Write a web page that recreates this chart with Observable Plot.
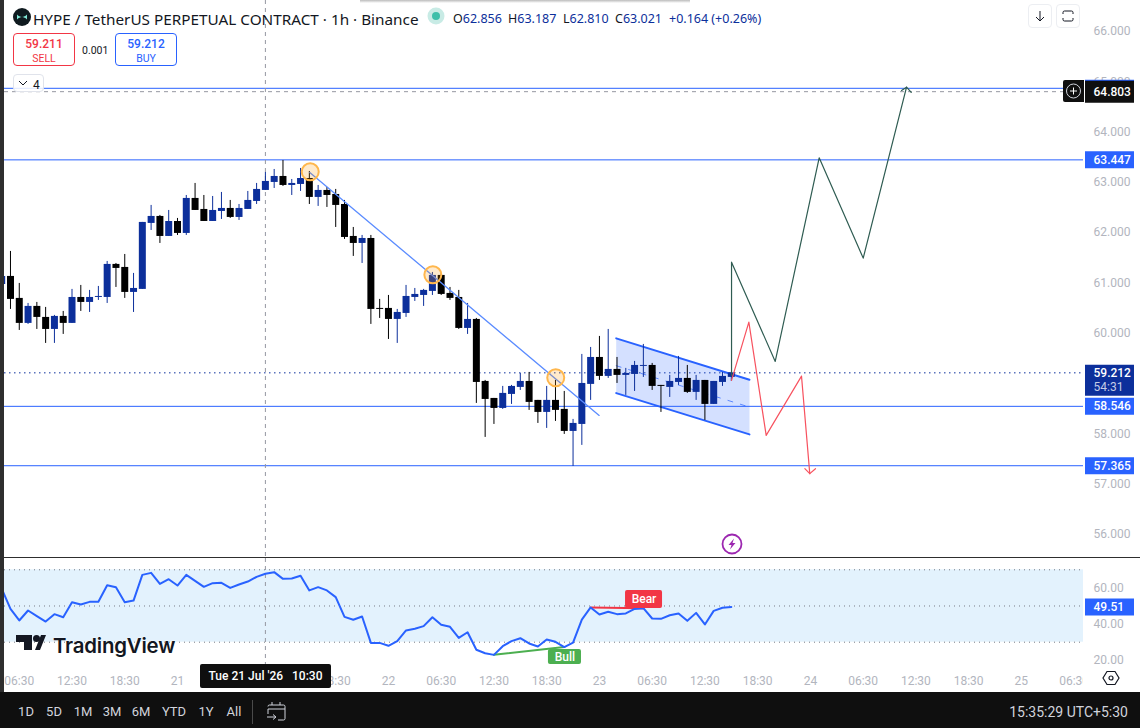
<!DOCTYPE html>
<html>
<head>
<meta charset="utf-8">
<script src="https://cdn.jsdelivr.net/npm/d3@7"></script>
<script src="https://cdn.jsdelivr.net/npm/@observablehq/plot@0.6"></script>
<style>
html,body{margin:0;padding:0;width:1140px;height:728px;overflow:hidden;background:#2e2e2e;font-family:Roboto,sans-serif}
#wrap{position:relative;width:1140px;height:728px}
.p{position:absolute}
.t{position:absolute;white-space:nowrap;line-height:1}
#bar{position:absolute;left:0;top:692px;width:1140px;height:36px;background:#0f0f0f}
.range{position:absolute;top:705px;color:#d1d4dc;font-size:13px;line-height:1;transform:translateX(-50%)}
.box{position:absolute;box-sizing:border-box;background:#fff;border-radius:4px}
</style>
</head>
<body>
<div id="wrap"></div>
<script>
// ---------- candles: hours from Tue 21 Jul 00:30 ----------
const firstBar = -20;
const high = [61.129,61.626,60.990,60.592,60.612,60.513,60.354,60.433,60.871,60.950,60.851,60.930,61.427,61.387,61.566,61.189,62.203,62.541,62.342,62.441,
62.282,62.739,62.978,62.739,62.719,62.799,62.640,62.560,62.819,62.978,
63.197,63.256,63.435,63.057,63.276,63.216,62.938,62.898,62.859,62.640,
62.103,61.944,61.944,60.672,60.751,60.473,60.950,60.890,60.871,61.208,
61.189,60.910,60.851,60.592,60.294,59.061,58.703,58.942,58.962,59.200,
59.220,58.664,58.942,59.061,58.842,58.286,59.578,59.717,59.936,60.075,
59.518,59.300,59.439,59.777,59.399,58.962,59.161,59.538,59.359,59.161,
59.061,59.041,59.220,59.220];
const bodyTop = [61.129,61.129,60.692,60.533,60.533,60.314,60.334,60.334,60.711,60.711,60.711,60.731,61.368,61.368,61.308,60.890,62.203,62.322,62.322,62.222,
62.222,62.680,62.680,62.461,62.441,62.481,62.481,62.481,62.640,62.859,
63.018,63.117,63.117,62.978,63.077,63.077,62.839,62.839,62.759,62.560,
61.924,61.884,61.884,60.493,60.493,60.413,60.731,60.771,60.851,61.149,
61.149,60.791,60.711,60.274,60.274,59.041,58.703,58.803,58.942,59.041,
59.041,58.664,58.664,58.664,58.485,58.206,59.001,59.518,59.518,59.280,
59.280,59.200,59.359,59.359,59.359,58.962,59.041,59.101,59.101,59.061,
59.061,59.041,59.141,59.212];
const bodyBottom = [60.970,60.672,60.195,60.195,60.314,60.075,60.075,60.195,60.195,60.612,60.612,60.711,60.711,61.288,60.811,60.811,60.871,62.183,61.924,61.924,
61.984,61.984,62.441,62.222,62.222,62.421,62.302,62.302,62.461,62.620,
62.839,62.998,62.938,62.938,62.958,62.700,62.700,62.739,62.541,61.904,
61.785,61.785,60.473,60.473,60.274,60.274,60.393,60.711,60.751,60.831,
60.771,60.692,60.095,60.095,59.021,58.683,58.504,58.504,58.783,58.922,
58.624,58.425,58.425,58.465,58.047,58.047,58.186,58.982,59.141,59.141,
59.161,59.161,59.180,59.340,58.942,58.942,58.922,59.021,58.823,58.823,
58.584,58.584,59.021,59.121];
const low = [60.970,60.473,60.055,60.175,60.075,59.797,59.797,59.976,60.195,60.433,60.413,60.652,60.592,60.910,60.692,60.413,60.871,62.043,61.785,61.924,
61.944,61.944,62.441,62.222,62.222,62.262,62.282,62.242,62.461,62.560,
62.839,62.878,62.918,62.739,62.819,62.560,62.521,62.501,62.103,61.865,
61.527,61.387,60.175,60.294,59.876,59.797,60.314,60.632,60.533,60.751,
60.751,60.652,60.075,59.976,58.604,57.928,58.186,58.485,58.584,58.862,
58.465,58.206,58.107,58.246,57.988,57.351,57.769,58.664,59.061,59.101,
59.001,58.763,58.842,59.121,58.862,58.425,58.723,58.962,58.803,58.664,
58.266,58.584,58.942,59.041];
const rising = [1,0,0,1,0,0,1,0,1,0,1,1,1,0,0,1,1,1,0,1,
0,1,0,0,1,1,0,1,1,1,
1,1,0,1,1,0,1,0,0,0,
0,1,0,0,0,1,1,1,1,1,
0,0,0,1,0,0,0,1,1,1,
0,0,1,0,0,1,1,1,0,1,
0,1,1,1,0,0,1,1,0,1,
0,1,1,1];

// ---------- RSI ----------
const rsi = [59.5,48.4,42.0,47.5,44.4,41.4,45.5,43.8,52.1,50.8,52.3,52.3,61.5,60.4,52.1,53.0,67.2,68.3,62.2,64.8,
61.3,67.2,63.9,60.6,62.6,62.8,60.0,61.9,63.5,66.1,
67.8,68.7,65.0,65.2,66.7,58.6,60.4,58.6,54.9,44.0,
42.4,44.2,29.6,29.6,28.0,30.6,36.5,37.4,38.9,43.8,
39.6,38.5,32.4,35.5,25.8,23.9,23.0,27.8,30.6,32.2,
29.3,27.6,31.5,30.2,27.3,29.8,42.5,49.2,45.3,46.8,
45.5,45.9,48.4,48.8,43.1,42.9,44.9,45.9,41.8,46.2,
39.8,47.3,49.0,49.51];
const rsiLevels = [70,50,30];
const rsiTicks = [60,40,20];
const bullBar = [36,44], bullValue = [23.0,27.3];
const bearBar = [47,53], bearValue = [49.2,48.8];

// ---------- drawings ----------
const priceTicks = [66,65,64,63,62,61,60,59,58,57,56];
const levels = [64.87,63.447,58.546,57.365];
const currentPrice = 59.212, crossPrice = 64.803, crossBar = 10;
const trendBar = [15.05,47.97], trendPrice = [63.197,58.366];
const circleBar = [15.1,29.05,43.03], circlePrice = [63.21,61.163,59.115];
const channelBar = [49.91,65.07,65.07,49.91], channelPrice = [59.897,59.076,57.988,58.809];
const channelMidPrice = [59.354,58.531];
const greenBar = [63.03,63.03,68.0,73.0,78.01,82.94], greenPrice = [59.161,61.413,59.439,63.489,61.493,64.893];
const greenHeadBar = [82.37,82.94,83.47], greenHeadPrice = [64.827,64.893,64.787];
const redBar = [63.03,65.0,66.97,70.99,71.93], redPrice = [59.062,60.221,57.968,59.147,57.207];
const redHeadBar = [71.37,71.93,72.58], redHeadPrice = [57.306,57.207,57.306];

// ---------- time axis (labels under the crosshair badge are not shown in the reference) ----------
const timeBars = [-18,-12,-6,0,18,24,30,36,42,48,54,60,66,72,78,84,90,96,102];
const timeLabels = ["06:30","12:30","18:30","21","18:30","22","06:30","12:30","18:30","23","06:30","12:30","18:30","24","06:30","12:30","18:30","25","06:30"];

// ---------- colours / shared ----------
const upColor = "#0c2f9b", downColor = "#000000", lineBlue = "#2962ff", axisGray = "#b2b5be", pricePlotFont = "Roboto, sans-serif";
const bars = high.map((h,k)=>({i:firstBar+k,h,top:bodyTop[k],bot:bodyBottom[k],l:low[k],c:rising[k]?upColor:downColor}));
const xDomain = [-19.68,103.07];
const priceDomain = [55.54,66.616];
const rsiDomain = [2.21,76.24];
const zip = (xs,ys)=>xs.map((x,k)=>({x,y:ys[k]}));
const wrap = document.getElementById("wrap");
function place(node,left,top){node.classList.add("p");node.style.left=left+"px";node.style.top=top+"px";node.style.background="#fff";wrap.appendChild(node);}

// ---------- price pane ----------
const main = Plot.plot({
  width:1079,height:557,margin:0,
  x:{domain:xDomain,axis:null},y:{domain:priceDomain,axis:null},
  style:{fontFamily:pricePlotFont},
  marks:[
    Plot.ruleY(levels,{stroke:lineBlue,strokeWidth:1}),
    Plot.ruleY([currentPrice],{stroke:upColor,strokeDasharray:"1.5,3.5",strokeWidth:1}),
    Plot.ruleY([crossPrice],{stroke:"#9598a1",strokeDasharray:"4,4",strokeWidth:1}),
    Plot.ruleX([crossBar],{stroke:"#9598a1",strokeDasharray:"4,4",strokeWidth:1}),
    Plot.line(zip(channelBar,channelPrice).concat(zip(channelBar,channelPrice)[0]),{x:"x",y:"y",stroke:"none",fill:"#2962ff",fillOpacity:0.2}),
    Plot.line(zip([channelBar[0],channelBar[1]],channelMidPrice),{x:"x",y:"y",stroke:lineBlue,strokeOpacity:0.7,strokeWidth:1,strokeDasharray:"5,8"}),
    Plot.line(zip(channelBar.slice(0,2),channelPrice.slice(0,2)),{x:"x",y:"y",stroke:lineBlue,strokeWidth:2}),
    Plot.line(zip(channelBar.slice(2),channelPrice.slice(2)),{x:"x",y:"y",stroke:lineBlue,strokeWidth:2}),
    Plot.ruleX(bars,{x:"i",y1:"l",y2:"h",stroke:"c",strokeWidth:1}),
    Plot.ruleX(bars,{x:"i",y1:"bot",y2:"top",stroke:"c",strokeWidth:7}),
    Plot.line(zip(trendBar,trendPrice),{x:"x",y:"y",stroke:"#5b8cff",strokeWidth:1.3}),
    Plot.dot(zip(circleBar,circlePrice),{x:"x",y:"y",r:8.5,stroke:"#ffb74d",strokeWidth:2,fill:"#ff9800",fillOpacity:0.2}),
    Plot.line(zip(greenBar,greenPrice),{x:"x",y:"y",stroke:"#2f5c52",strokeWidth:1.2}),
    Plot.line(zip(greenHeadBar,greenHeadPrice),{x:"x",y:"y",stroke:"#2f5c52",strokeWidth:1.2}),
    Plot.line(zip(redBar,redPrice),{x:"x",y:"y",stroke:"#f7525f",strokeWidth:1.2}),
    Plot.line(zip(redHeadBar,redHeadPrice),{x:"x",y:"y",stroke:"#f7525f",strokeWidth:1.2})
  ]
});
place(main,4,0);

// ---------- price scale ----------
const fmt3 = d3.format(".3f");
const priceScale = Plot.plot({
  width:57,height:557,margin:0,
  y:{domain:priceDomain,axis:null},
  style:{fontFamily:pricePlotFont},
  marks:[
    Plot.text(priceTicks,{y:d=>d,text:fmt3,frameAnchor:"left",dx:10,fill:axisGray,fontSize:12}),
    Plot.ruleY([levels[0]],{stroke:lineBlue,strokeWidth:17,insetLeft:2,insetRight:6}),
    Plot.ruleY([crossPrice],{stroke:"#0f0f0f",strokeWidth:22,insetLeft:2,insetRight:6}),
    Plot.text([crossPrice],{y:d=>d,text:fmt3,frameAnchor:"left",dx:10,fill:"#fff",fontSize:12,fontWeight:500}),
    Plot.ruleY(levels.slice(1),{stroke:lineBlue,strokeWidth:17,insetLeft:2,insetRight:6}),
    Plot.text(levels.slice(1),{y:d=>d,text:fmt3,frameAnchor:"left",dx:10,fill:"#fff",fontSize:12,fontWeight:500}),
    Plot.ruleY([currentPrice],{stroke:upColor,strokeWidth:31,dy:7.5,insetLeft:2,insetRight:6}),
    Plot.text([currentPrice],{y:d=>d,text:fmt3,frameAnchor:"left",dx:10,fill:"#fff",fontSize:12,fontWeight:500}),
    Plot.text([currentPrice],{y:d=>d,text:()=>"54:31",frameAnchor:"left",dx:10,dy:14.5,fill:"#c3cbe6",fontSize:12})
  ]
});
place(priceScale,1083,0);

// ---------- RSI pane ----------
const rsiPane = Plot.plot({
  width:1079,height:134,margin:0,
  x:{domain:xDomain,axis:null},y:{domain:rsiDomain,axis:null},
  style:{fontFamily:pricePlotFont},
  marks:[
    Plot.rectY([0],{x1:xDomain[0],x2:xDomain[1],y1:rsiLevels[2],y2:rsiLevels[0],fill:"#e3f2fd"}),
    Plot.ruleY(rsiLevels,{stroke:"#787b86",strokeDasharray:"1,4",strokeWidth:1}),
    Plot.ruleX([crossBar],{y1:rsiDomain[1],y2:13,stroke:"#9598a1",strokeDasharray:"4,4",strokeWidth:1}),
    Plot.line(zip(bullBar,bullValue),{x:"x",y:"y",stroke:"#4caf50",strokeWidth:2}),
    Plot.line(zip(bearBar,bearValue),{x:"x",y:"y",stroke:"#f23645",strokeWidth:2}),
    Plot.line(rsi.map((v,k)=>({x:firstBar+k,y:v})),{x:"x",y:"y",stroke:lineBlue,strokeWidth:2}),
    Plot.rect([0],{x1:42.2,x2:45.96,y1:17.7,y2:26.0,fill:"#4caf50",rx:2}),
    Plot.text(["Bull"],{x:44.08,y:21.9,fill:"#fff",fontSize:12,fontWeight:500}),
    Plot.rect([0],{x1:50.97,x2:55.18,y1:48.6,y2:58.6,fill:"#f23645",rx:2}),
    Plot.text(["Bear"],{x:53.07,y:53.6,fill:"#fff",fontSize:12,fontWeight:500}),
    Plot.text(timeBars,{x:d=>d,text:(d,k)=>timeLabels[k],frameAnchor:"bottom",dy:-8,fill:axisGray,fontSize:12})
  ]
});
place(rsiPane,4,558);

const rsiScale = Plot.plot({
  width:57,height:134,margin:0,
  y:{domain:rsiDomain,axis:null},
  style:{fontFamily:pricePlotFont},
  marks:[
    Plot.text(rsiTicks,{y:d=>d,text:d3.format(".2f"),frameAnchor:"left",dx:10,fill:axisGray,fontSize:12}),
    Plot.ruleY([rsi[rsi.length-1]],{stroke:lineBlue,strokeWidth:17,insetLeft:2,insetRight:6}),
    Plot.text([rsi[rsi.length-1]],{y:d=>d,text:d3.format(".2f"),frameAnchor:"left",dx:10,fill:"#fff",fontSize:12,fontWeight:500})
  ]
});
place(rsiScale,1083,558);

// ---------- page chrome ----------
const chrome = document.createElement("div");
chrome.innerHTML = `
<div style="position:absolute;left:360px;top:0;width:330px;height:3px;background:linear-gradient(#bbb,#fff)"></div>
<svg class="t" style="left:13px;top:8px" width="18" height="18"><circle cx="9" cy="9" r="9" fill="#0f1a1f"/><path d="M4 6.5c2 2 3 2 5 2.5 2-.5 3-.5 5-2.5v5c-2-2-3-2-5-2.5-2 .5-3 .5-5 2.5z" fill="#7fe6d5"/></svg>
<div class="t" style="left:33px;top:9px;font:15.3px 'Noto Sans',sans-serif;color:#131722">HYPE / TetherUS PERPETUAL CONTRACT · 1h · Binance</div>
<svg class="t" style="left:427px;top:7px" width="18" height="18"><circle cx="9" cy="9" r="8.5" fill="#c8ebe5"/><circle cx="9" cy="9" r="4" fill="#3dbfa9"/></svg>
<div class="t" style="left:453px;top:10px;font:12.5px 'Noto Sans',sans-serif;color:#0c2f9b;word-spacing:0">
<span style="color:#131722">O</span>62.856</div>
<div class="t" style="left:508px;top:10px;font:12.5px 'Noto Sans',sans-serif;color:#0c2f9b"><span style="color:#131722">H</span>63.187</div>
<div class="t" style="left:563px;top:10px;font:12.5px 'Noto Sans',sans-serif;color:#0c2f9b"><span style="color:#131722">L</span>62.810</div>
<div class="t" style="left:615px;top:10px;font:12.5px 'Noto Sans',sans-serif;color:#0c2f9b"><span style="color:#131722">C</span>63.021</div>
<div class="t" style="left:669px;top:10px;font:12.5px 'Noto Sans',sans-serif;color:#0c2f9b">+0.164 (+0.26%)</div>

<div class="box" style="left:13px;top:33px;width:62px;height:33px;border:1px solid #f23645"></div>
<div class="t" style="left:13px;width:62px;top:37px;text-align:center;font:500 12px Roboto;color:#f23645">59.211</div>
<div class="t" style="left:13px;width:62px;top:52px;text-align:center;font:10.5px Roboto;color:#f23645">SELL</div>
<div class="t" style="left:82px;top:44px;font:10.5px Roboto;color:#131722">0.001</div>
<div class="box" style="left:115px;top:33px;width:62px;height:33px;border:1px solid #2962ff"></div>
<div class="t" style="left:115px;width:62px;top:37px;text-align:center;font:500 12px Roboto;color:#2962ff">59.212</div>
<div class="t" style="left:115px;width:62px;top:52px;text-align:center;font:10.5px Roboto;color:#2962ff">BUY</div>
<div class="box" style="left:13px;top:74px;width:31px;height:18px;border:1px solid #e0e3eb;background:rgba(255,255,255,.85)"></div>
<svg class="t" style="left:18px;top:80px" width="10" height="7"><path d="M1 1l4 4 4-4" fill="none" stroke="#131722"/></svg>
<div class="t" style="left:33px;top:78px;font:12px Roboto;color:#131722">4</div>

<div class="box" style="left:1028px;top:4px;width:24px;height:24px;border:1px solid #eceef2"></div>
<svg class="t" style="left:1028px;top:4px" width="24" height="24"><path d="M12 7v10M8 13l4 4 4-4" fill="none" stroke="#131722"/></svg>
<div class="box" style="left:1056px;top:4px;width:24px;height:24px;border:1px solid #eceef2"></div>
<svg class="t" style="left:1056px;top:4px" width="24" height="24"><path d="M7 10V8.500a1.500 1.500 0 0 1 1.500-1.500h7a1.500 1.500 0 0 1 1.500 1.500V10M7 14v1.500a1.500 1.500 0 0 0 1.500 1.500h7a1.500 1.500 0 0 0 1.500-1.500V14" fill="none" stroke="#131722"/></svg>

<div class="box" style="left:1063px;top:80px;width:21px;height:22px;background:#0f0f0f;border-radius:2px 0 0 2px"></div>
<svg class="t" style="left:1063px;top:80px" width="21" height="22"><circle cx="10.500" cy="11" r="7" fill="none" stroke="#d1d4dc"/><path d="M10.500 7.500v7M7 11h7" stroke="#fff"/></svg>

<svg class="t" style="left:721px;top:533px" width="22" height="22"><circle cx="11" cy="11" r="9.500" fill="#fff" stroke="#9c27b0" stroke-width="1.800"/><path d="M13 5.500L7.500 12h3l-1.500 4.500L14.500 10h-3z" fill="#9c27b0"/></svg>

<svg class="t" style="left:14px;top:633px" width="34" height="20"><path d="M2 2h16v15h-8v-8H2z" fill="#131722"/><circle cx="22.500" cy="5.500" r="3.500" fill="#131722"/><path d="M21 17l6-15h5l-6 15z" fill="#131722"/></svg>
<div class="t" style="left:53px;top:633px;font:600 20.4px Inter,sans-serif;color:#131722;letter-spacing:-.2px;text-shadow:0 0 2px #fff">TradingView</div>

<div class="t" style="left:200px;top:664px;width:131px;height:24px;background:#0f0f0f;border-radius:2px;color:#fff;font:500 12px Roboto;line-height:24px;white-space:pre;text-align:center">Tue 21 Jul '26   10:30</div>
<svg class="t" style="left:1102px;top:670px" width="18" height="16"><path d="M5 1.500h8l4 6.500-4 6.500H5L1 8z" fill="none" stroke="#131722" stroke-width="1.200"/><circle cx="9" cy="8" r="2" fill="none" stroke="#131722" stroke-width="1.200"/></svg>

<div id="bar"></div>
<div class="range" style="left:26px">1D</div><div class="range" style="left:54px">5D</div><div class="range" style="left:83px">1M</div><div class="range" style="left:112px">3M</div><div class="range" style="left:141px">6M</div><div class="range" style="left:174px">YTD</div><div class="range" style="left:206px">1Y</div><div class="range" style="left:234px">All</div>
<div class="t" style="left:252px;top:700px;width:1px;height:24px;background:#4a4a4a"></div>
<svg class="t" style="left:266px;top:701px" width="20" height="21"><path d="M6 1v3M14 1v3M2 8h17M2 5.500a1.500 1.500 0 0 1 1.500-1.500h14a1.500 1.500 0 0 1 1.500 1.500v12a1.500 1.500 0 0 1-1.500 1.500H12M2 8v5M1 16h8M7 13.500l3 2.500-3 2.500" fill="none" stroke="#d1d4dc"/></svg>
<div class="t" style="right:12px;top:705px;color:#d1d4dc;font-size:14px">15:35:29 UTC+5:30</div>
`;
wrap.appendChild(chrome);
</script>
</body>
</html>
